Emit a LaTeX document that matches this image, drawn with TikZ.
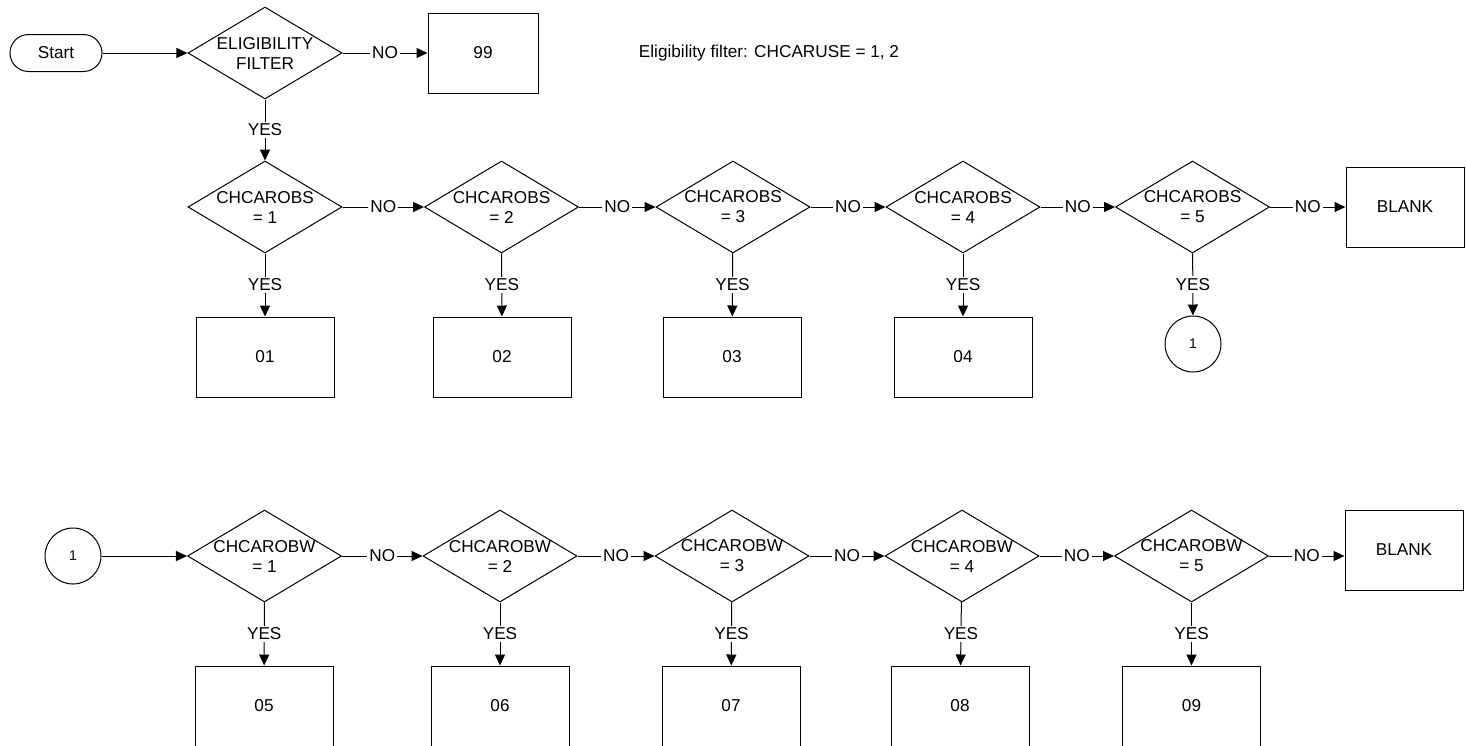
\documentclass[tikz,border=0pt]{standalone}
\usepackage{fontspec}
\setmainfont{Liberation Sans}
\usetikzlibrary{shapes.geometric,arrows.meta}

\tikzset{
  decision/.style={draw, shape=diamond, minimum width=77pt, minimum height=46pt, inner sep=0pt},
  outbox/.style={draw, rectangle, minimum width=69pt, minimum height=40pt},
  blankbox/.style={draw, rectangle, minimum width=59pt, minimum height=40pt},
  conn/.style={draw, circle, minimum size=28pt, inner sep=0pt, font=\fontsize{7}{8}\selectfont},
  arr/.style={-{Triangle[length=5.5pt,width=5pt]}},
  tag/.style={fill=white, inner sep=1pt},
  dtext/.style={align=center}
}

\begin{document}
\begin{tikzpicture}[x=0.5pt, y=-0.5pt, line width=0.5pt, font=\fontsize{8.6}{10}\selectfont]
\useasboundingbox (0,0) rectangle (1466,745);

% eligibility
\node[draw, rectangle, rounded corners=9.25pt, minimum width=46pt, minimum height=18.5pt] (start) at (56,53) {Start};
\node[decision, label={[dtext]center:{ELIGIBILITY\\FILTER}}] (elig) at (265,53) {};
\node[draw, rectangle, minimum width=55pt, minimum height=40pt] (b99) at (483,53) {99};
\node (note) at (769,53) {Eligibility filter: CHCARUSE = 1, 2};

\draw[arr] (start) -- (elig);
\draw[arr] (elig) -- node[tag] {NO} (b99);

% CHCAROBS row
\foreach \i/\x in {1/265, 2/501.5, 3/733, 4/963, 5/1192.5}
  \node[decision, label={[dtext]center:{CHCAROBS\\= \i}}] (obs\i) at (\x,207) {};
\foreach \i/\x in {1/265, 2/502, 3/732, 4/963}
  \node[outbox] (obsbox\i) at (\x,357) {0\i};
\node[conn] (c1) at (1193,344) {1};
\node[blankbox] (blank1) at (1405,207) {BLANK};

\draw[arr] (elig) -- node[tag] {YES} (obs1);
\foreach \a/\b in {1/2, 2/3, 3/4, 4/5}
  \draw[arr] (obs\a) -- node[tag] {NO} (obs\b);
\foreach \i in {1,...,4}
  \draw[arr] (obs\i) -- node[tag] {YES} (obsbox\i);
\draw[arr] (obs5) -- node[tag] {YES} (c1);
\draw[arr] (obs5) -- node[tag] {NO} (blank1);

% CHCAROBW row
\node[conn] (c2) at (73,556) {1};
\foreach \i/\x in {1/264.5, 2/500, 3/732, 4/962, 5/1191.5}
  \node[decision, label={[dtext]center:{CHCAROBW\\= \i}}] (obw\i) at (\x,556) {};
\foreach \i/\x/\t in {1/264/05, 2/500/06, 3/731/07, 4/960/08, 5/1191.5/09}
  \node[outbox] (obwbox\i) at (\x,706) {\t};
\node[blankbox] (blank2) at (1404,550) {BLANK};

\draw[arr] (c2) -- (obw1);
\foreach \a/\b in {1/2, 2/3, 3/4, 4/5}
  \draw[arr] (obw\a) -- node[tag] {NO} (obw\b);
\foreach \i in {1,...,5}
  \draw[arr] (obw\i) -- node[tag] {YES} (obwbox\i);
\draw[arr] (obw5.east) -- node[tag] {NO} (obw5.east -| blank2.west);

\end{tikzpicture}
\end{document}
